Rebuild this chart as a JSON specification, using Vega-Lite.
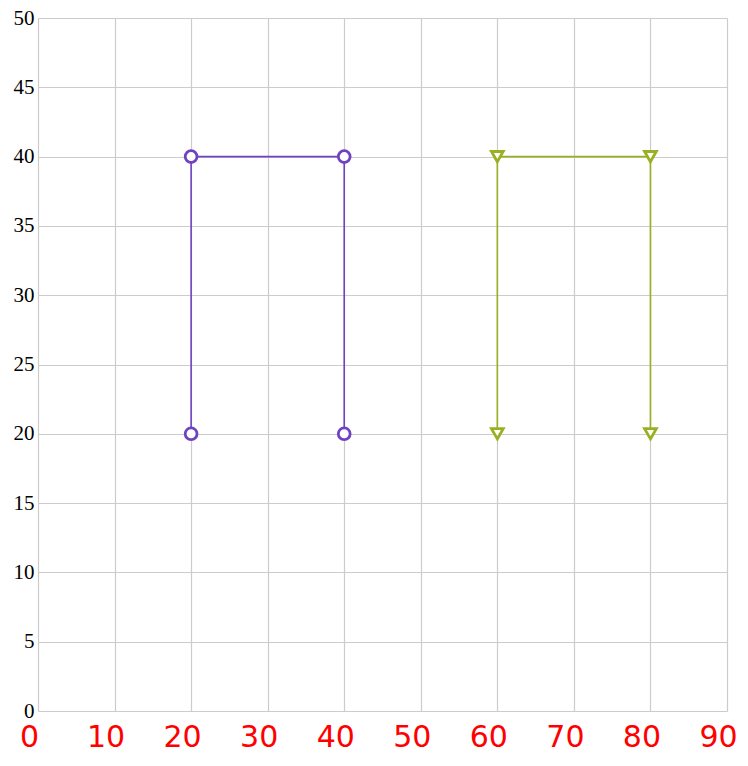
{
  "$schema": "https://vega.github.io/schema/vega-lite/v6.json",
  "width": 689,
  "height": 693,
  "autosize": {"type": "none"},
  "padding": {"left": 38, "top": 18, "right": 21, "bottom": 55},
  "background": "white",
  "data": {
    "values": [
      {"x": 20, "y": 20, "series": "A", "order": 1},
      {"x": 20, "y": 40, "series": "A", "order": 2},
      {"x": 40, "y": 40, "series": "A", "order": 3},
      {"x": 40, "y": 20, "series": "A", "order": 4},
      {"x": 60, "y": 20, "series": "B", "order": 1},
      {"x": 60, "y": 40, "series": "B", "order": 2},
      {"x": 80, "y": 40, "series": "B", "order": 3},
      {"x": 80, "y": 20, "series": "B", "order": 4}
    ]
  },
  "config": {
    "view": {"stroke": null},
    "axis": {"gridColor": "#cccccc", "gridWidth": 1.2, "domain": false, "ticks": false, "title": null}
  },
  "encoding": {
    "x": {
      "field": "x", "type": "quantitative",
      "scale": {"domain": [0, 90], "nice": false},
      "axis": {"values": [0,10,20,30,40,50,60,70,80,90], "labelColor": "red", "labelFont": "DejaVu Sans", "labelFontSize": 30, "labelPadding": 11, "labelOffset": -9, "labelFlush": false, "labelOverlap": false}
    },
    "y": {
      "field": "y", "type": "quantitative",
      "scale": {"domain": [0, 50], "nice": false},
      "axis": {"values": [0,5,10,15,20,25,30,35,40,45,50], "labelColor": "black", "labelFont": "Liberation Serif", "labelFontSize": 21, "labelPadding": 4, "labelFlush": false, "labelOverlap": false}
    },
    "color": {
      "field": "series", "type": "nominal",
      "scale": {"domain": ["A", "B"], "range": ["#6f42c1", "#9ab023"]},
      "legend": null
    }
  },
  "layer": [
    {
      "mark": {"type": "line", "strokeWidth": 1.6},
      "encoding": {"order": {"field": "order", "type": "quantitative"}, "detail": {"field": "series"}}
    },
    {
      "mark": {"type": "point", "filled": false, "fill": "white", "fillOpacity": 1, "strokeWidth": 2.8, "opacity": 1, "size": 140},
      "encoding": {
        "shape": {"field": "series", "type": "nominal", "scale": {"domain": ["A", "B"], "range": ["circle", "triangle-down"]}, "legend": null}
      }
    }
  ]
}
